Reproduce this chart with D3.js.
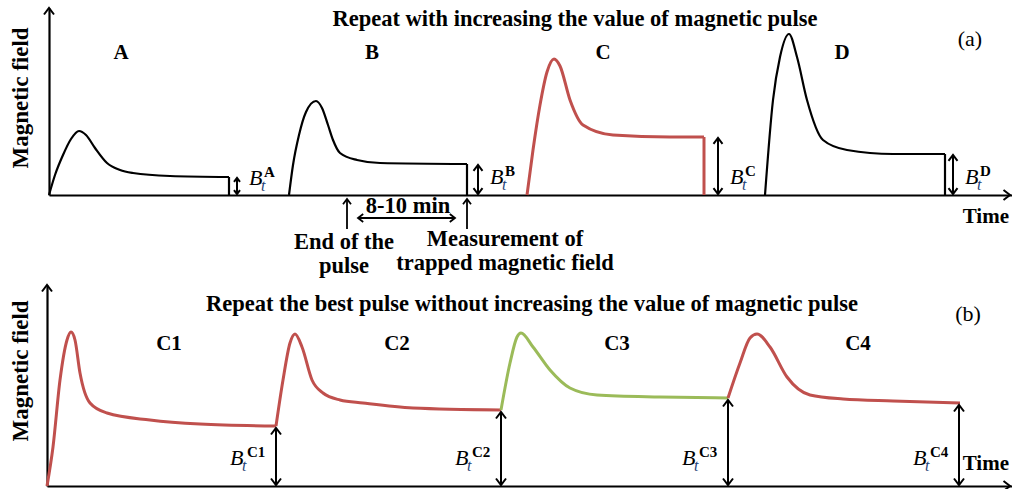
<!DOCTYPE html>
<html>
<head>
<meta charset="utf-8">
<script src="https://cdn.jsdelivr.net/npm/d3@7"></script>
<style>
  body { margin: 0; background: #fff; }
  svg { display: block; }
  text { font-family: "Liberation Serif", "Times New Roman", serif; }
</style>
</head>
<body>
<script>
// ---------------- DATA (time, field) ----------------
// Panel (a): increasing pulses A..D
const pulseA = [[0,0],[6,20],[14,40],[22,56],[30,64],[37,60],[46,47],[58,32],[71,25],[84,22],[121,19],[180,18]];
const pulseB = [[240,0],[244,30],[250,60],[257,83],[267,94],[273,87],[279,70],[284,55],[291,42],[308,35],[331,32],[418,31]];
const pulseC = [[478,0],[484,45],[491,90],[498,123],[505,136],[511,129],[521,95],[534,70],[564,60],[621,58],[655,58]];
const pulseD = [[716,0],[724,95],[731,138],[740,161],[748,138],[758,95],[774,55],[798,45],[844,41],[896,41]];
const pulseNamesA = ["A", "B", "C", "D"];
const trappedSupA = ["A", "B", "C", "D"];

// Panel (b): repeated best pulse C1..C4
const pulseC1 = [[0,0],[6,39],[13,106],[20,146],[24,154],[28,146],[33,113],[43,83],[60,73],[103,66],[153,62],[229,60]];
const pulseC2 = [[229,60],[236,106],[243,143],[248,152],[255,139],[265,106],[276,93],[293,86],[316,83],[366,78],[454,76]];
const pulseC3 = [[454,76],[463,123],[470,149],[474,153],[486,139],[503,116],[523,98],[550,91],[613,89],[681,88]];
const pulseC4 = [[681,88],[693,123],[703,148],[710,152],[723,139],[740,109],[763,91],[796,87],[846,85],[913,83]];
const pulseNamesB = ["C1", "C2", "C3", "C4"];

const titleA = "Repeat with increasing the value of magnetic pulse";
const titleB = "Repeat the best pulse without increasing the value of magnetic pulse";
const yAxisLabel = "Magnetic field";
const xAxisLabel = "Time";
const intervalLabel = "8-10 min";
const endLabel = ["End of the", "pulse"];
const measLabel = ["Measurement of", "trapped magnetic field"];

// ---------------- STYLE ----------------
const RED = "#c0504d", GREEN = "#9bbb59", BLACK = "#000";
const W = 1012, H = 489;
const FS_TITLE = 22.5, FS_NOTE = 22.5, FS_NAME = 21, FS_AXIS = 23;

const svg = d3.select("body").append("svg").attr("width", W).attr("height", H);

// scales
const xA = d3.scaleLinear().domain([0, 963]).range([49, 1012]);
const yA = d3.scaleLinear().domain([0, 187]).range([195, 8]);
const xB = d3.scaleLinear().domain([0, 965]).range([47, 1012]);
const yB = d3.scaleLinear().domain([0, 201]).range([486, 285]);

function chevron(g, x, y, dir, h, sw) {
  let d;
  if (dir === "up") d = `M${x-h},${y+h*1.3} L${x},${y} L${x+h},${y+h*1.3}`;
  if (dir === "down") d = `M${x-h},${y-h*1.3} L${x},${y} L${x+h},${y-h*1.3}`;
  if (dir === "right") d = `M${x-h*1.3},${y-h} L${x},${y} L${x-h*1.3},${y+h}`;
  if (dir === "left") d = `M${x+h*1.3},${y-h} L${x},${y} L${x+h*1.3},${y+h}`;
  g.append("path").attr("d", d).attr("fill", "none").attr("stroke", BLACK)
    .attr("stroke-width", sw || 2).attr("stroke-linejoin", "miter");
}
function vDouble(g, x, y1, y2, h) {
  g.append("line").attr("x1", x).attr("x2", x).attr("y1", y1).attr("y2", y2)
    .attr("stroke", BLACK).attr("stroke-width", 2);
  chevron(g, x, y1, "up", h);
  chevron(g, x, y2, "down", h);
}
function btLabel(g, x, y, sup, supDx) {
  g.append("text").attr("x", x).attr("y", y).attr("font-size", 22)
    .attr("font-style", "italic").text("B");
  g.append("text").attr("x", x + 12).attr("y", y + 6).attr("font-size", 16)
    .attr("font-style", "italic").attr("fill", "#1f3f77").text("t");
  g.append("text").attr("x", x + (supDx || 15)).attr("y", y - 8).attr("font-size", 15)
    .attr("font-weight", "bold").text(sup);
}
function drawAxes(g, xs, ys) {
  const xa = g.append("g").attr("transform", `translate(0,${ys(0)})`)
    .call(d3.axisBottom(xs).tickValues([]).tickSizeOuter(0));
  const ya = g.append("g").attr("transform", `translate(${xs(0)},0)`)
    .call(d3.axisLeft(ys).tickValues([]).tickSizeOuter(0));
  [xa, ya].forEach(a => a.select(".domain").attr("stroke", BLACK).attr("stroke-width", 2.2));
  chevron(g, xs(0), ys.range()[1], "up", 5, 2);
  chevron(g, xs.range()[1] - 2, ys(0), "right", 5, 2);
}

const line = (xs, ys) => d3.line().x(d => xs(d[0])).y(d => ys(d[1])).curve(d3.curveMonotoneX);

// ---------------- PANEL (a) ----------------
const gA = svg.append("g");
drawAxes(gA, xA, yA);

const pulsesA = [pulseA, pulseB, pulseC, pulseD];
const colorsA = [BLACK, BLACK, RED, BLACK];
const arrowOffA = [8, 11, 14, 8];
const nameDxA = [42, 56, 49, 53];
pulsesA.forEach((p, i) => {
  const col = colorsA[i];
  const sw = col === RED ? 3 : 2.2;
  gA.append("path").datum(p).attr("d", line(xA, yA)).attr("fill", "none")
    .attr("stroke", col).attr("stroke-width", sw);
  const last = p[p.length - 1];
  gA.append("line").attr("x1", xA(last[0])).attr("x2", xA(last[0]))
    .attr("y1", yA(last[1])).attr("y2", yA(0)).attr("stroke", col).attr("stroke-width", sw);
  const ax = xA(last[0]) + arrowOffA[i];
  vDouble(gA, ax, yA(last[1]) + 1, yA(0) - 1, i === 0 ? 3 : 4.5);
  btLabel(gA, ax + 12, (i === 0 ? 185 : 184), trappedSupA[i]);
  const peak = p.reduce((a, b) => b[1] > a[1] ? b : a);
  gA.append("text").attr("x", xA(peak[0] + nameDxA[i])).attr("y", 59)
    .attr("text-anchor", "middle").attr("font-size", FS_NAME).attr("font-weight", "bold")
    .text(pulseNamesA[i]);
});

gA.append("text").attr("x", 575).attr("y", 26).attr("text-anchor", "middle")
  .attr("font-size", FS_TITLE).attr("font-weight", "bold").text(titleA);
gA.append("text").attr("x", 970).attr("y", 46).attr("text-anchor", "middle")
  .attr("font-size", 22).text("(a)");
gA.append("text").attr("transform", "translate(28,98) rotate(-90)").attr("text-anchor", "middle")
  .attr("font-size", FS_AXIS).attr("font-weight", "bold").text(yAxisLabel);
gA.append("text").attr("x", 1009).attr("y", 223).attr("text-anchor", "end").attr("font-size", 21)
  .attr("font-weight", "bold").text(xAxisLabel);

// interval annotation for pulse B
const bStartX = xA(pulseB[0][0]) + 58; // end of the pulse marker
const bEndX = xA(pulseB[pulseB.length - 1][0]);
[bStartX, bEndX].forEach(x => {
  gA.append("line").attr("x1", x).attr("x2", x).attr("y1", 199).attr("y2", 229)
    .attr("stroke", BLACK).attr("stroke-width", 1.8);
  chevron(gA, x, 199, "up", 4, 1.8);
});
gA.append("line").attr("x1", bStartX + 11).attr("x2", bEndX - 12).attr("y1", 218).attr("y2", 218)
  .attr("stroke", BLACK).attr("stroke-width", 1.8);
chevron(gA, bStartX + 11, 218, "left", 4, 1.8);
chevron(gA, bEndX - 12, 218, "right", 4, 1.8);
gA.append("text").attr("x", 408).attr("y", 213).attr("text-anchor", "middle")
  .attr("font-size", FS_NOTE).attr("font-weight", "bold").text(intervalLabel);
endLabel.forEach((t, i) => gA.append("text").attr("x", 344).attr("y", 249 + i * 24)
  .attr("text-anchor", "middle").attr("font-size", FS_NOTE).attr("font-weight", "bold").text(t));
measLabel.forEach((t, i) => gA.append("text").attr("x", 505).attr("y", 246 + i * 24)
  .attr("text-anchor", "middle").attr("font-size", FS_NOTE).attr("font-weight", "bold").text(t));

// ---------------- PANEL (b) ----------------
const gB = svg.append("g");
drawAxes(gB, xB, yB);

const pulsesB = [pulseC1, pulseC2, pulseC3, pulseC4];
const colorsB = [RED, RED, GREEN, RED];
const nameDxB = [98, 102, 96, 101];
pulsesB.forEach((p, i) => {
  gB.append("path").datum(p).attr("d", line(xB, yB)).attr("fill", "none")
    .attr("stroke", colorsB[i]).attr("stroke-width", 3);
  const last = p[p.length - 1];
  const ax = xB(last[0]) + (i === 3 ? -1 : 0);
  vDouble(gB, ax, yB(last[1]) + 2, yB(0) - 1, 5);
  btLabel(gB, ax - 46, 465, pulseNamesB[i], 17);
  const peak = p.reduce((a, b) => b[1] > a[1] ? b : a);
  gB.append("text").attr("x", xB(peak[0] + nameDxB[i])).attr("y", 350)
    .attr("text-anchor", "middle").attr("font-size", FS_NAME).attr("font-weight", "bold")
    .text(pulseNamesB[i]);
});

gB.append("text").attr("x", 532).attr("y", 311).attr("text-anchor", "middle")
  .attr("font-size", FS_TITLE).attr("font-weight", "bold").text(titleB);
gB.append("text").attr("x", 968).attr("y", 321).attr("text-anchor", "middle")
  .attr("font-size", 22).text("(b)");
gB.append("text").attr("transform", "translate(28,371) rotate(-90)").attr("text-anchor", "middle")
  .attr("font-size", FS_AXIS).attr("font-weight", "bold").text(yAxisLabel);
gB.append("text").attr("x", 1009).attr("y", 470).attr("text-anchor", "end").attr("font-size", 21)
  .attr("font-weight", "bold").text(xAxisLabel);
</script>
</body>
</html>
